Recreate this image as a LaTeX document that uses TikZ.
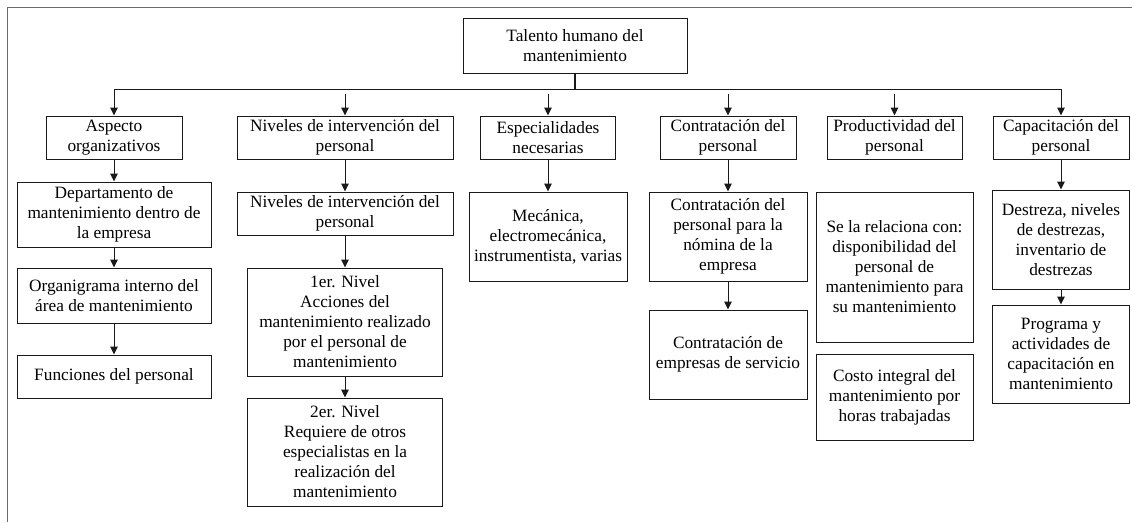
\documentclass[tikz,border=0pt]{standalone}
\usepackage{fontspec}
\setmainfont{Liberation Serif}
\usetikzlibrary{arrows.meta,calc}
\definecolor{framegray}{HTML}{6B6B6B}
\definecolor{ink}{HTML}{1A1A1A}
\tikzset{
  box/.style={draw=ink, line width=1pt, inner sep=0pt, align=center,
    font=\fontsize{17.3}{20}\selectfont},
  arr/.style={draw=ink, line width=1pt, -{Triangle[width=7.5pt,length=8pt]}},
  link/.style={draw=ink, line width=1pt},
}
\begin{document}
\begin{tikzpicture}[x=1pt,y=-1pt]
\useasboundingbox (0,0) rectangle (1132,522);
% outer frame (top and left edges)
\draw[framegray, line width=1.6pt] (7.5,522) -- (7.5,7.5) -- (1132,7.5);

% root
\node[box, minimum width=224, minimum height=55] (T) at (575,45.5) {Talento humano del\\mantenimiento};

% first level
\node[box, minimum width=136, minimum height=43] (A1) at (114,137.5) {Aspecto\\organizativos};
\node[box, minimum width=216, minimum height=43] (B1) at (345,137.5) {Niveles de intervención del\\personal};
\node[box, minimum width=135, minimum height=43] (C1) at (548,137.5) {Especialidades\\necesarias};
\node[box, minimum width=136, minimum height=43] (D1) at (728,137.5) {Contratación del\\personal};
\node[box, minimum width=135, minimum height=43] (E1) at (894.5,137.5) {Productividad del\\personal};
\node[box, minimum width=136, minimum height=43] (F1) at (1061,137.5) {Capacitación del\\personal};

% column A
\node[box, minimum width=194, minimum height=65] (A2) at (114,214.5) {Departamento de\\mantenimiento dentro de\\la empresa};
\node[box, minimum width=194, minimum height=55] (A3) at (114,295.5) {Organigrama interno del\\área de mantenimiento};
\node[box, minimum width=194, minimum height=43] (A4) at (114,376.5) {Funciones del personal};

% column B
\node[box, minimum width=216, minimum height=43] (B2) at (345,213.5) {Niveles de intervención del\\personal};
\node[box, minimum width=195, minimum height=108] (B3) at (345,322) {1er. Nivel\\Acciones del\\mantenimiento realizado\\por el personal de\\mantenimiento};
\node[box, minimum width=195, minimum height=108] (B4) at (345,452) {2er. Nivel\\Requiere de otros\\especialistas en la\\realización del\\mantenimiento};

% column C
\node[box, minimum width=158, minimum height=89] (C2) at (548,236.5) {Mecánica,\\electromecánica,\\instrumentista, varias};

% column D
\node[box, minimum width=158, minimum height=89] (D2) at (728,236.5) {Contratación del\\personal para la\\nómina de la\\empresa};
\node[box, minimum width=158, minimum height=89] (D3) at (728,354.5) {Contratación de\\empresas de servicio};

% column E
\node[box, minimum width=157, minimum height=150] (E2) at (894.5,267) {Se la relaciona con:\\disponibilidad del\\personal de\\mantenimiento para\\su mantenimiento};
\node[box, minimum width=157, minimum height=86] (E3) at (894.5,397) {Costo integral del\\mantenimiento por\\horas trabajadas};

% column F
\node[box, minimum width=137, minimum height=99] (F2) at (1061,239.5) {Destreza, niveles\\de destrezas,\\inventario de\\destrezas};
\node[box, minimum width=137, minimum height=98] (F3) at (1061,354) {Programa y\\actividades de\\capacitación en\\mantenimiento};

% distribution bus under the root
\coordinate (bus) at ($(T.south)+(0,16)$);
\draw[link, line width=1.6pt] (T.south) -- (bus);
\draw[arr] (bus) -| (A1.north);
\draw[arr] (bus) -| (F1.north);
\foreach \n in {B1,C1,D1,E1}
  \draw[arr] ($(\n.north |- bus)+(0,4)$) -- (\n.north);

% vertical links inside the columns
\draw[arr] (A1.south) -- (A2.north);
\draw[arr] (A2.south) -- (A3.north);
\draw[arr] (A3.south) -- (A4.north);
\draw[arr] (B1.south) -- (B2.north);
\draw[arr] (B2.south) -- (B3.north);
\draw[arr] (B3.south) -- (B4.north);
\draw[arr] (C1.south) -- (C2.north);
\draw[arr] (D1.south) -- (D2.north);
\draw[arr] (D2.south) -- (D3.north);
\draw[arr] (F1.south) -- (F2.north);
\draw[arr] (F2.south) -- (F3.north);
\end{tikzpicture}
\end{document}
